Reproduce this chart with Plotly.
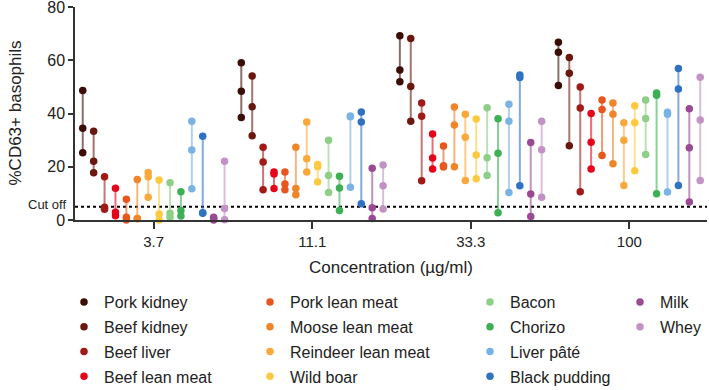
import plotly.graph_objects as go

concentrations = ["3.7", "11.1", "33.3", "100"]
foods = ["Pork kidney", "Beef kidney", "Beef liver", "Beef lean meat",
         "Pork lean meat", "Moose lean meat", "Reindeer lean meat", "Wild boar",
         "Bacon", "Chorizo", "Liver pâté", "Black pudding", "Milk", "Whey"]
colors = ["#3b0d07", "#6a170e", "#a01a18", "#e4051b", "#e8561e", "#f28428",
          "#f9a83b", "#fdca3f", "#8dcf86", "#3daf55", "#79b3e5", "#2f72c2",
          "#9a4a93", "#c292c5"]

# three patients per food, per concentration (3.7, 11.1, 33.3, 100 µg/ml)
pork_kidney = [[48.6, 34.5, 25.3], [59.1, 48.4, 38.5], [69.2, 56.3, 51.9], [66.8, 63.0, 50.5]]
beef_kidney = [[33.3, 22.1, 17.7], [54.1, 42.5, 31.6], [68.2, 50.1, 37.1], [61.0, 55.1, 27.9]]
beef_liver = [[16.2, 4.8, 4.0], [27.3, 21.8, 11.4], [43.9, 39.0, 14.7], [50.0, 42.1, 10.6]]
beef_lean = [[11.9, 2.9, 1.6], [18.0, 17.3, 11.8], [32.3, 23.3, 19.2], [40.0, 29.2, 19.2]]
pork_lean = [[7.8, 1.0, 0.0], [18.0, 13.5, 11.4], [27.8, 20.4, 19.9], [45.1, 41.5, 24.2]]
moose_lean = [[15.2, 0.6, 0.5], [27.3, 11.8, 9.5], [42.4, 35.7, 20.0], [43.9, 39.7, 21.1]]
reindeer_lean = [[17.8, 16.2, 8.5], [36.8, 23.0, 18.0], [39.7, 31.1, 14.8], [36.5, 30.0, 13.0]]
wild_boar = [[15.0, 2.3, 0.0], [20.8, 20.0, 14.3], [37.9, 24.4, 15.5], [42.9, 36.5, 18.5]]
bacon = [[14.0, 2.5, 1.0], [30.0, 16.7, 10.3], [42.2, 23.4, 16.7], [45.1, 38.1, 24.6]]
chorizo = [[10.6, 3.6, 1.5], [16.4, 12.0, 3.6], [38.0, 25.1, 2.7], [47.7, 46.9, 9.9]]
liver_pate = [[37.1, 26.3, 11.7], [39.1, 38.8, 12.3], [43.5, 37.1, 10.3], [40.5, 39.7, 10.5]]
black_pudding = [[31.5, 2.7, 2.5], [40.6, 36.8, 6.1], [54.5, 53.5, 12.9], [56.9, 49.2, 13.0]]
milk = [[1.0, 0.5, 0.0], [19.4, 4.6, 0.6], [29.1, 9.8, 1.3], [41.8, 27.1, 6.8]]
whey = [[22.1, 4.3, 0.1], [20.7, 12.9, 4.1], [37.1, 26.4, 8.5], [53.6, 37.6, 14.8]]

cut_off = 5
y_ticks = [0, 20, 40, 60, 80]

series = [pork_kidney, beef_kidney, beef_liver, beef_lean, pork_lean, moose_lean,
          reindeer_lean, wild_boar, bacon, chorizo, liver_pate, black_pudding, milk, whey]

def rgba(hexc, a):
    h = hexc.lstrip("#")
    return "rgba(%d,%d,%d,%.2f)" % (int(h[0:2], 16), int(h[2:4], 16), int(h[4:6], 16), a)

FONT = "Arial, Liberation Sans, sans-serif"
TXT = "#222"
n = len(foods)
step = 0.0688
fig = go.Figure()
legend_ids = ["legend", "legend2", "legend3", "legend4"]
for i, (name, vals, col) in enumerate(zip(foods, series, colors)):
    xs, ys = [], []
    for g, trip in enumerate(vals):
        xpos = g + (i - (n - 1) / 2) * step
        for v in trip:
            xs.append(xpos)
            ys.append(v)
        xs.append(None)
        ys.append(None)
    fig.add_trace(go.Scatter(x=xs, y=ys, mode="lines", line=dict(color=rgba(col, 0.6), width=2),
                             showlegend=False, hoverinfo="skip", cliponaxis=False))
    fig.add_trace(go.Scatter(x=xs, y=ys, mode="markers", name=name,
                             marker=dict(color=col, size=7.5), cliponaxis=False,
                             legend=legend_ids[i // 4], legendgroup=name))

fig.add_shape(type="line", xref="paper", yref="y", x0=0, x1=1, y0=cut_off, y1=cut_off,
              line=dict(color="black", width=2, dash="dot"), layer="below")
fig.add_annotation(text="Cut off", xref="paper", yref="y", x=0, y=cut_off, xanchor="right",
                   xshift=-7, yshift=2, showarrow=False, font=dict(family=FONT, size=13, color=TXT))
fig.add_annotation(text="%CD63+ basophils", xref="paper", yref="paper", x=0, y=0.5,
                   xanchor="center", yanchor="middle", xshift=-60, textangle=-90,
                   showarrow=False, font=dict(family=FONT, size=17, color=TXT))

legend_left = [64, 250, 470, 620]
for k, lid in enumerate(legend_ids):
    fig.update_layout(**{lid: dict(x=legend_left[k] / 709, y=1 - 285 / 390, xref="container", yref="container",
                                   xanchor="left", yanchor="top", bgcolor="rgba(0,0,0,0)",
                                   font=dict(family=FONT, size=16, color=TXT),
                                   tracegroupgap=1, itemwidth=30)})

fig.update_layout(
    width=709, height=390,
    margin=dict(l=75, r=2, t=7, b=170, autoexpand=False),
    paper_bgcolor="white", plot_bgcolor="white",
    font=dict(family=FONT, size=15, color=TXT),
    xaxis=dict(range=[-0.496, 3.49], tickvals=[0, 1, 2, 3], ticktext=concentrations,
               showgrid=False, zeroline=False, showline=True, linecolor="#333", linewidth=1.5,
               ticks="outside", ticklen=7, tickcolor="#333", tickwidth=1.5,
               tickfont=dict(family=FONT, size=15, color=TXT),
               title=dict(text="Concentration (µg/ml)", font=dict(family=FONT, size=17, color=TXT), standoff=12)),
    yaxis=dict(range=[0, 80], tickvals=y_ticks, showgrid=False, zeroline=False,
               showline=True, linecolor="#333", linewidth=1.5, ticks="outside", ticklen=5,
               tickcolor="#333", tickwidth=1.5, ticklabeloverflow="allow",
               tickfont=dict(family=FONT, size=16, color=TXT)),
)

fig.write_html("out.html", post_script="document.body.style.margin='0';",
               config={"displayModeBar": False})
